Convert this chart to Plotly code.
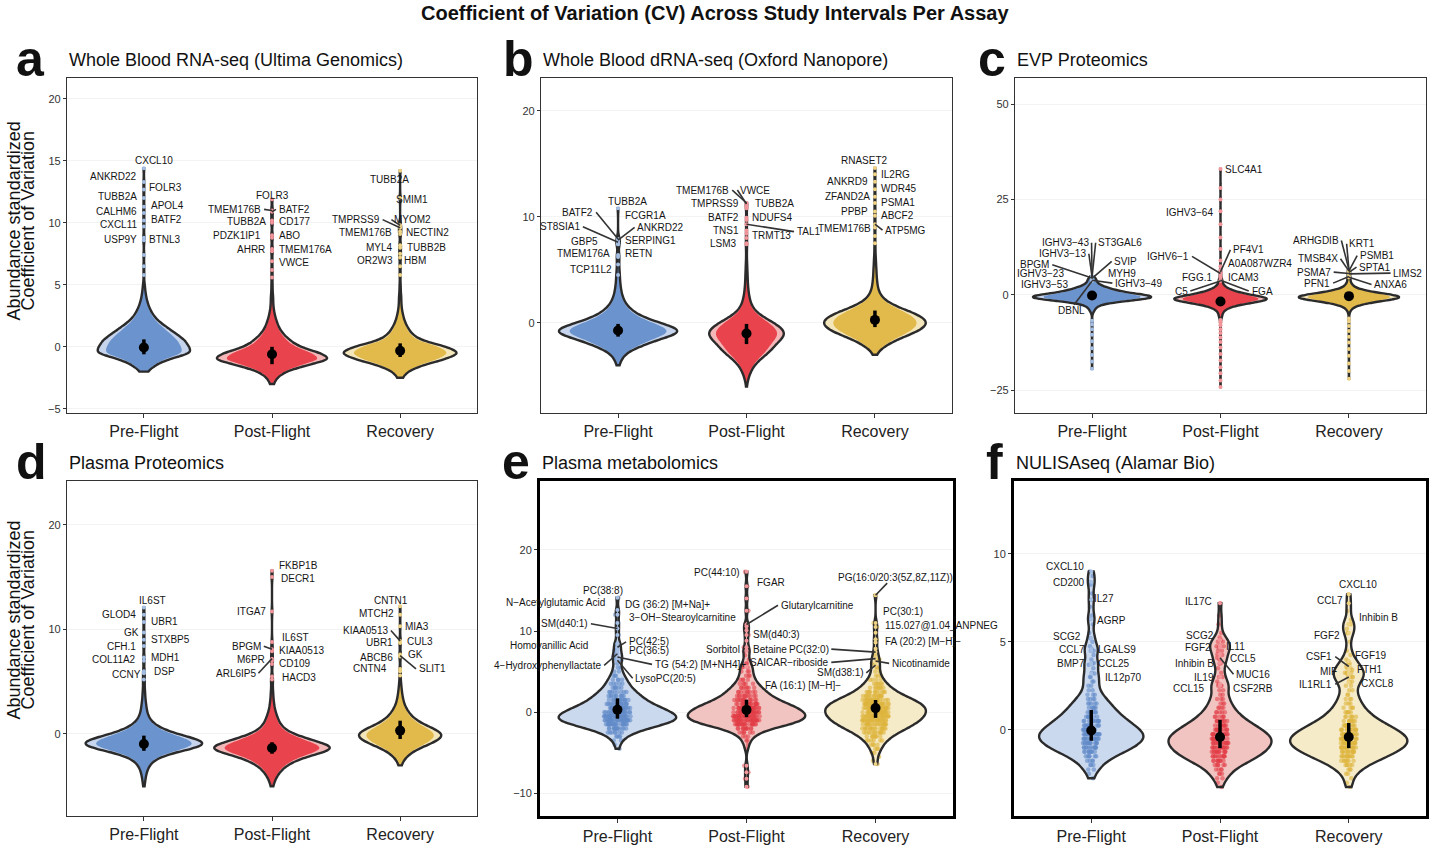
import numpy as np
import plotly.graph_objects as go

CATS = ["Pre-Flight", "Post-Flight", "Recovery"]

# ---------------- a: Whole Blood RNA-seq (Ultima Genomics)
A_BINS = [-3.0, -2.5, -2.0, -1.5, -1.0, -0.5, 0.0, 0.5, 1.0, 1.5, 2.0, 2.5, 3.0, 3.5, 4.0, 4.5, 5.0]
A_PRE_COUNTS = [0, 0, 8, 22, 50, 100, 92, 85, 68, 50, 32, 20, 13, 8, 5, 3, 2]
A_POST_COUNTS = [3, 8, 22, 55, 100, 80, 45, 30, 19, 12, 8, 5, 3, 2, 2, 1, 1]
A_REC_COUNTS = [0, 4, 12, 35, 75, 100, 78, 35, 20, 13, 8, 5, 3, 2, 2, 1, 1]
A_PRE_TAIL = [5.8, 6.5, 7.4]
A_POST_TAIL = [5.6, 6.2]
A_REC_TAIL = [5.8, 6.5]
A_PRE_GENES = ["CXCL10", "ANKRD22", "FOLR3", "TUBB2A", "APOL4", "CALHM6", "BATF2", "CXCL11", "USP9Y", "BTNL3"]
A_PRE_CV = [14.4, 13.3, 12.7, 12.0, 11.3, 10.8, 10.2, 9.7, 8.8, 8.6]
A_POST_GENES = ["FOLR3", "TMEM176B", "BATF2", "TUBB2A", "CD177", "PDZK1IP1", "ABO", "AHRR", "TMEM176A", "VWCE"]
A_POST_CV = [11.9, 11.0, 10.9, 10.2, 10.0, 9.0, 8.8, 7.9, 7.7, 6.9]
A_REC_GENES = ["TUBB2A", "SMIM1", "TMPRSS9", "MYOM2", "TMEM176B", "NECTIN2", "MYL4", "TUBB2B", "OR2W3", "HBM"]
A_REC_CV = [14.2, 12.0, 9.6, 9.8, 9.3, 9.1, 8.2, 8.0, 7.5, 7.2]
A_MEAN = [-0.05, -0.6, -0.32]
A_ERR_HI = [0.65, 0.6, 0.6]
A_ERR_LO = [0.55, 0.8, 0.5]

# ---------------- b: Whole Blood dRNA-seq (Oxford Nanopore)
B_BINS = [-6.0, -5.5, -5.0, -4.5, -4.0, -3.5, -3.0, -2.5, -2.0, -1.5, -1.0, -0.5, 0.0, 0.5,
          1.0, 1.5, 2.0, 2.5, 3.0, 3.5, 4.0, 4.5, 5.0, 5.5, 6.0, 6.5, 7.0]
B_PRE_COUNTS = [0, 0, 0, 0, 2, 5, 10, 22, 45, 65, 100, 95, 65, 40, 25, 16, 10, 7, 5, 4, 3, 2, 2, 1, 1, 1, 0]
B_POST_COUNTS = [1, 3, 7, 12, 20, 33, 50, 65, 75, 90, 100, 90, 70, 45, 25, 15, 10, 7, 5, 4, 3, 3, 2, 2, 1, 1, 1]
B_REC_COUNTS = [0, 0, 0, 0, 0, 0, 3, 10, 25, 45, 72, 92, 100, 92, 70, 42, 22, 12, 7, 5, 4, 3, 3, 2, 2, 1, 1]
B_PRE_TAIL = [4.5]
B_POST_TAIL = [7.5, 8.0]
B_REC_TAIL = [7.5, 8.2]
B_PRE_GENES = ["TUBB2A", "BATF2", "FCGR1A", "ST8SIA1", "ANKRD22", "GBP5", "SERPING1", "TMEM176A", "RETN", "TCP11L2"]
B_PRE_CV = [10.8, 7.9, 7.8, 7.6, 7.8, 7.4, 7.4, 6.4, 6.2, 5.5]
B_POST_GENES = ["TMEM176B", "VWCE", "TMPRSS9", "TUBB2A", "BATF2", "NDUFS4", "TNS1", "TRMT13", "TAL1", "LSM3"]
B_POST_CV = [11.3, 11.2, 11.0, 10.8, 9.9, 9.7, 8.7, 8.4, 9.3, 7.4]
B_REC_GENES = ["RNASET2", "IL2RG", "ANKRD9", "WDR45", "ZFAND2A", "PSMA1", "PPBP", "ABCF2", "TMEM176B", "ATP5MG"]
B_REC_CV = [14.6, 14.0, 13.3, 12.6, 11.9, 11.3, 10.5, 10.1, 9.0, 9.3]
B_MEAN = [-0.72, -1.0, 0.28]
B_ERR_HI = [0.62, 0.9, 0.88]
B_ERR_LO = [0.58, 1.0, 0.68]

# ---------------- c: EVP Proteomics
C_BINS = [-6.0, -5.5, -5.0, -4.5, -4.0, -3.5, -3.0, -2.5, -2.0, -1.5, -1.0, -0.5, 0.0, 0.5,
          1.0, 1.5, 2.0, 2.5, 3.0, 3.5, 4.0, 4.5, 5.0]
C_PRE_COUNTS = [0, 0, 1, 2, 4, 5, 8, 13, 28, 55, 88, 100, 78, 50, 38, 28, 20, 12, 8, 5, 3, 1, 0]
C_POST_COUNTS = [3, 3, 4, 5, 8, 14, 25, 40, 62, 90, 100, 80, 55, 38, 25, 16, 10, 6, 4, 3, 2, 1, 0]
C_REC_COUNTS = [0, 0, 1, 2, 3, 6, 12, 22, 38, 62, 90, 100, 78, 50, 30, 17, 10, 6, 4, 3, 2, 2, 1]
C_PRE_TAIL = [-19.4, -17.5, -15.8, -14.0, -12.2, -10.5, -9.0, -7.8, -6.8]
C_POST_TAIL = [-24.2, -22.5, -20.6, -19.0, -17.2, -15.5, -13.8, -12.4, -11.2, -10.0, -9.0, -8.0,
               -7.2, -6.6, 6.5, 7.5, 9.0, 12.0, 15.0, 18.5, 25.0, 28.0]
C_REC_TAIL = [-22.0, -20.0, -18.0, -16.0, -14.2, -12.5, -11.0, -9.5, -8.2, -7.0, -6.2]
C_PRE_GENES = ["IGHV3−43", "ST3GAL6", "IGHV3−13", "BPGM", "SVIP", "IGHV3−23", "MYH9", "IGHV3−53", "IGHV3−49", "DBNL"]
C_PRE_CV = [4.8, 4.7, 4.6, 4.4, 4.3, 4.2, 4.1, 4.0, 3.8, 3.6]
C_POST_GENES = ["SLC4A1", "IGHV3−64", "PF4V1", "IGHV6−1", "A0A087WZR4", "FGG.1", "ICAM3", "C5", "FGA"]
C_POST_CV = [33.0, 21.9, 6.0, 5.6, 5.8, 4.8, 4.5, 3.6, 3.8]
C_REC_GENES = ["ARHGDIB", "KRT1", "PSMB1", "TMSB4X", "SPTA1", "PSMA7", "LIMS2", "PFN1", "ANXA6"]
C_REC_CV = [6.6, 6.5, 6.3, 6.2, 5.9, 5.6, 5.5, 4.8, 4.6]
C_MEAN = [-0.2, -1.75, -0.35]
C_ERR_HI = [1.0, 1.0, 1.0]
C_ERR_LO = [1.0, 1.0, 1.0]

# ---------------- d: Plasma Proteomics
D_BINS = [-5.5, -5.0, -4.5, -4.0, -3.5, -3.0, -2.5, -2.0, -1.5, -1.0, -0.5, 0.0, 0.5, 1.0,
          1.5, 2.0, 2.5, 3.0, 3.5, 4.0, 4.5, 5.0]
D_PRE_COUNTS = [0, 1, 2, 3, 5, 8, 15, 30, 65, 100, 80, 48, 26, 14, 8, 5, 4, 3, 2, 2, 1, 1]
D_POST_COUNTS = [0, 2, 4, 8, 14, 22, 38, 60, 100, 88, 55, 32, 18, 12, 9, 6, 4, 3, 2, 2, 1, 1]
D_REC_COUNTS = [0, 0, 0, 0, 0, 3, 8, 18, 35, 65, 90, 100, 75, 48, 30, 20, 13, 8, 6, 4, 3, 2]
D_PRE_TAIL = [5.2]
D_POST_TAIL = [5.2]
D_REC_TAIL = [5.6, 6.0]
D_PRE_GENES = ["IL6ST", "GLOD4", "UBR1", "GK", "STXBP5", "CFH.1", "MDH1", "COL11A2", "CCNY", "DSP"]
D_PRE_CV = [12.1, 11.4, 10.7, 9.7, 9.0, 8.4, 7.3, 7.0, 5.8, 6.0]
D_POST_GENES = ["FKBP1B", "DECR1", "ITGA7", "IL6ST", "BPGM", "KIAA0513", "M6PR", "CD109", "ARL6IP5", "HACD3"]
D_POST_CV = [15.6, 15.0, 11.7, 8.8, 8.1, 7.9, 7.0, 6.7, 7.2, 5.5]
D_REC_GENES = ["CNTN1", "MTCH2", "MIA3", "KIAA0513", "UBR1", "CUL3", "ABCB6", "GK", "CNTN4", "SLIT1"]
D_REC_CV = [12.2, 11.4, 10.3, 8.9, 8.7, 8.8, 7.4, 7.6, 6.2, 7.5]
D_MEAN = [-0.96, -1.34, 0.32]
D_ERR_HI = [0.8, 0.55, 0.95]
D_ERR_LO = [0.65, 0.55, 0.8]

# ---------------- e: Plasma metabolomics
E_BINS = [-6.0, -5.5, -5.0, -4.5, -4.0, -3.5, -3.0, -2.5, -2.0, -1.5, -1.0, -0.5, 0.0, 0.5,
          1.0, 1.5, 2.0, 2.5, 3.0, 3.5, 4.0, 4.5, 5.0, 5.5, 6.0, 6.5, 7.0, 7.5, 8.0]
E_PRE_COUNTS = [0, 0, 0, 1, 1, 2, 4, 7, 13, 20, 26, 26, 23, 19, 15, 12, 10, 8, 6, 5, 4, 3, 2, 2, 1, 1, 1, 0, 0]
E_POST_COUNTS = [0, 0, 0, 1, 1, 2, 3, 6, 11, 20, 26, 27, 26, 23, 19, 14, 11, 9, 7, 5, 4, 3, 3, 2, 2, 1, 1, 1, 0]
E_REC_COUNTS = [1, 1, 2, 3, 4, 6, 8, 12, 16, 20, 23, 25, 26, 26, 24, 20, 15, 11, 8, 6, 4, 3, 2, 2, 1, 1, 1, 0, 0]
E_PRE_TAIL = [8.5, 9.5, 11.0]
E_POST_TAIL = [-9.2, -8.2, -7.4, -6.6, 8.8, 10.1, 12.5, 14.0]
E_REC_TAIL = [-6.4, 7.8, 9.0, 9.8]
E_PRE_GENES = ["PC(38:8)", "N−Acetylglutamic Acid", "DG (36:2) [M+Na]+", "SM(d40:1)", "Homovanillic Acid",
               "PC(42:5)", "PC(36:5)", "4−Hydroxyphenyllactate", "TG (54:2) [M+NH4]+", "LysoPC(20:5)"]
E_PRE_CV = [14.1, 12.6, 12.0, 10.3, 8.3, 8.0, 7.6, 7.2, 6.8, 6.4]
E_POST_GENES = ["PC(44:10)", "FGAR", "Glutarylcarnitine", "3−OH−Stearoylcarnitine", "SM(d40:3)",
                "Sorbitol", "Betaine", "FA (16:1) [M−H]−"]
E_POST_CV = [17.3, 15.5, 10.8, 10.6, 9.5, 8.0, 7.6, 5.6]
E_REC_GENES = ["PG(16:0/20:3(5Z,8Z,11Z))", "PC(30:1)", "115.027@1.04_ANPNEG", "FA (20:2) [M−H]−",
               "PC(32:0)", "SAICAR−riboside", "Nicotinamide", "SM(d38:1)"]
E_REC_CV = [14.4, 11.0, 10.5, 8.6, 7.4, 6.6, 6.3, 5.8]
E_MEAN = [0.3, 0.28, 0.5]
E_ERR_HI = [1.4, 1.25, 1.0]
E_ERR_LO = [1.1, 0.9, 1.2]

# ---------------- f: NULISAseq (Alamar Bio)  (0.25-wide bins)
F_BINS = [-3.25, -3.0, -2.75, -2.5, -2.25, -2.0, -1.75, -1.5, -1.25, -1.0,
          -0.75, -0.5, -0.25, 0.0, 0.25, 0.5, 0.75, 1.0, 1.25, 1.5,
          1.75, 2.0, 2.25, 2.5, 2.75, 3.0, 3.25, 3.5, 3.75, 4.0,
          4.25, 4.5, 4.75, 5.0, 5.25, 5.5, 5.75, 6.0, 6.25, 6.5,
          6.75, 7.0, 7.25, 7.5, 7.75, 8.0, 8.25, 8.5, 8.75, 9.0]
F_PRE_COUNTS = [0, 0, 1, 1, 2, 3, 4, 6, 9, 11,
                13, 14, 14, 13, 11, 10, 8, 7, 6, 5,
                4, 3, 2, 2, 2, 2, 1, 1, 1, 1,
                1, 1, 1, 1, 0, 1, 0, 1, 0, 1,
                0, 1, 0, 0, 1, 0, 1, 0, 1, 0]
F_POST_COUNTS = [1, 1, 2, 3, 4, 6, 9, 11, 13, 14,
                 15, 15, 14, 12, 10, 8, 6, 5, 4, 3,
                 3, 2, 2, 2, 1, 1, 1, 1, 1, 1,
                 1, 2, 2, 2, 1, 1, 0, 1, 0, 1,
                 0, 0, 0, 0, 0, 0, 0, 0, 0, 0]
F_REC_COUNTS = [1, 1, 1, 2, 3, 5, 7, 10, 12, 14,
                15, 15, 14, 12, 10, 8, 6, 5, 4, 3,
                3, 2, 2, 2, 2, 3, 3, 2, 2, 1,
                1, 1, 0, 1, 0, 1, 1, 1, 1, 0,
                1, 0, 0, 0, 0, 0, 0, 0, 0, 0]
F_PRE_TAIL = []
F_POST_TAIL = []
F_REC_TAIL = []
F_PRE_GENES = ["CXCL10", "CD200", "IL27", "AGRP", "SCG2", "CCL7", "LGALS9", "BMP7", "CCL25", "IL12p70"]
F_PRE_CV = [9.0, 8.4, 7.4, 6.3, 5.2, 4.6, 4.5, 3.8, 3.7, 3.2]
F_POST_GENES = ["IL17C", "SCG2", "FGF2", "IL11", "CCL5", "Inhibin B", "MUC16", "IL19", "CCL15", "CSF2RB"]
F_POST_CV = [7.2, 5.1, 4.8, 4.7, 4.3, 3.8, 4.1, 3.0, 2.5, 2.6]
F_REC_GENES = ["CXCL10", "CCL7", "Inhibin B", "FGF2", "CSF1", "FGF19", "MIF", "FTH1", "IL1RL1", "CXCL8"]
F_REC_CV = [7.7, 7.2, 6.0, 5.5, 3.6, 3.9, 3.2, 3.4, 3.0, 2.7]
F_MEAN = [-0.04, -0.41, -0.41]
F_ERR_HI = [1.17, 0.98, 0.8]
F_ERR_LO = [0.58, 0.63, 0.63]

# ---------------- label placement (layout only): (dx from category, label y, anchor, segment)
A_PRE_POS = [(0.08, 15.0, 'c', 0), (-0.037, 13.77, 'r', 0), (0.021, 12.88, 'l', 0), (-0.037, 12.11, 'r', 0),
             (0.037, 11.43, 'l', 0), (-0.037, 10.9, 'r', 0), (0.037, 10.25, 'l', 0), (-0.037, 9.85, 'r', 0),
             (-0.037, 8.67, 'r', 0), (0.021, 8.62, 'l', 0)]
A_POST_POS = [(0.0, 12.24, 'c', 0), (-0.068, 11.09, 'r', 1), (0.037, 11.09, 'l', 1), (-0.029, 10.07, 'r', 0),
              (0.037, 10.07, 'l', 0), (-0.068, 8.94, 'r', 0), (0.037, 8.94, 'l', 0), (-0.037, 7.84, 'r', 0),
              (0.037, 7.84, 'l', 0), (0.037, 6.77, 'l', 0)]
A_REC_POS = [(-0.08, 13.48, 'c', 0), (-0.047, 11.86, 'l', 0), (-0.143, 10.26, 'r', 1), (-0.062, 10.26, 'l', 1),
             (-0.047, 9.21, 'r', 0), (0.031, 9.21, 'l', 0), (-0.039, 8.05, 'r', 0), (0.039, 8.05, 'l', 0),
             (-0.039, 6.98, 'r', 0), (0.018, 6.98, 'l', 0)]
B_PRE_POS = [(0.07, 11.46, 'c', 0), (-0.177, 10.42, 'r', 1), (0.039, 10.1, 'l', 0), (-0.28, 9.07, 'r', 1),
             (0.135, 9.0, 'l', 1), (-0.138, 7.66, 'r', 0), (0.039, 7.75, 'l', 0), (-0.047, 6.5, 'r', 0),
             (0.039, 6.5, 'l', 0), (-0.034, 5.02, 'r', 0)]
B_POST_POS = [(-0.117, 12.52, 'r', 1), (-0.065, 12.52, 'l', 1), (-0.039, 11.27, 'r', 0), (0.051, 11.27, 'l', 0),
              (-0.039, 9.95, 'r', 0), (0.031, 9.95, 'l', 0), (-0.039, 8.69, 'r', 0), (0.031, 8.22, 'l', 0),
              (0.376, 8.6, 'l', 1), (-0.058, 7.44, 'r', 0)]
B_REC_POS = [(-0.078, 15.28, 'c', 0), (0.033, 13.94, 'l', 0), (-0.039, 13.34, 'r', 0), (0.033, 12.62, 'l', 0),
             (-0.026, 11.93, 'r', 0), (0.033, 11.36, 'l', 0), (-0.039, 10.48, 'r', 0), (0.033, 10.1, 'l', 0),
             (-0.018, 8.91, 'r', 0), (0.065, 8.75, 'l', 1)]
C_PRE_POS = [(-0.01, 13.65, 'r', 1), (0.034, 13.65, 'l', 1), (-0.031, 10.76, 'r', 1), (-0.316, 7.87, 'r', 1),
             (0.159, 8.75, 'l', 1), (-0.2, 5.69, 'r', 0), (0.112, 5.6, 'l', 0), (-0.174, 2.62, 'r', 0),
             (0.164, 3.06, 'l', 1), (-0.16, -4.1, 'c', (-0.14, -2.6))]
C_POST_POS = [(0.018, 32.9, 'l', 0), (-0.039, 21.7, 'r', 0), (0.083, 11.8, 'l', 1), (-0.228, 10.06, 'r', 1),
              (0.044, 8.3, 'l', 0), (-0.047, 4.64, 'r', 0), (0.044, 4.64, 'l', 0), (-0.241, 0.97, 'r', 1),
              (0.226, 0.97, 'l', 1)]
C_REC_POS = [(-0.065, 14.26, 'r', 1), (-0.012, 13.4, 'l', 1), (0.07, 10.3, 'l', 1), (-0.072, 9.45, 'r', 1),
             (0.065, 7.26, 'l', 1), (-0.125, 5.95, 'r', 1), (0.33, 5.69, 'l', 1), (-0.129, 3.06, 'r', 1),
             (0.182, 2.71, 'l', 1)]
D_PRE_POS = [(0.07, 12.76, 'c', 0), (-0.042, 11.39, 'r', 0), (0.039, 10.75, 'l', 0), (-0.021, 9.66, 'r', 0),
             (0.039, 9.0, 'l', 0), (-0.042, 8.36, 'r', 0), (0.039, 7.34, 'l', 0), (-0.042, 7.08, 'r', 0),
             (-0.008, 5.68, 'r', 0), (0.062, 6.0, 'l', 0)]
D_POST_POS = [(0.039, 16.1, 'l', 0), (0.052, 14.9, 'l', 0), (-0.034, 11.74, 'r', 0), (0.059, 9.22, 'l', 0),
              (-0.07, 8.39, 'r', 1), (0.039, 8.0, 'l', 0), (-0.039, 7.11, 'r', 0), (0.039, 6.7, 'l', 0),
              (-0.112, 5.8, 'r', 1), (0.059, 5.39, 'l', 0)]
D_REC_POS = [(-0.07, 12.76, 'c', 0), (-0.031, 11.48, 'r', 0), (0.026, 10.3, 'l', 0), (-0.078, 9.89, 'r', 1),
             (-0.039, 8.71, 'r', 0), (0.039, 8.83, 'l', 0), (-0.039, 7.34, 'r', 0), (0.047, 7.56, 'l', 0),
             (-0.083, 6.22, 'r', 0), (0.13, 6.22, 'l', 1)]
E_PRE_POS = [(-0.109, 15.0, 'c', 0), (-0.082, 13.5, 'r', 0), (0.042, 13.3, 'l', 0), (-0.212, 10.9, 'r', 1),
             (-0.212, 8.26, 'r', 0), (0.073, 8.67, 'l', 1), (0.073, 7.6, 'l', 0), (-0.109, 5.77, 'r', 1),
             (0.274, 5.89, 'l', 1), (0.124, 4.17, 'l', 1)]
E_POST_POS = [(-0.033, 17.26, 'r', 0), (0.062, 15.95, 'l', 0), (0.25, 13.17, 'l', 1), (-0.064, 11.62, 'r', 0),
              (0.036, 9.57, 'l', 0), (-0.033, 7.77, 'r', 0), (0.036, 7.77, 'l', 0), (0.129, 3.3, 'l', 0)]
E_REC_POS = [(-0.31, 16.65, 'l', (0.09, 15.9)), (0.039, 12.43, 'l', 0), (0.06, 10.63, 'l', 0), (0.06, 8.75, 'l', 0),
             (-0.349, 7.77, 'r', 1), (-0.349, 6.13, 'r', 1), (0.111, 6.01, 'l', 1), (-0.078, 4.85, 'r', 1)]
F_PRE_POS = [(-0.043, 9.3, 'r', 0), (-0.036, 8.37, 'r', 0), (0.008, 7.47, 'l', 0), (0.029, 6.24, 'l', 0),
             (-0.062, 5.29, 'r', 0), (-0.036, 4.56, 'r', 0), (0.034, 4.56, 'l', 0), (-0.036, 3.78, 'r', 0),
             (0.034, 3.78, 'l', 0), (0.091, 2.97, 'l', 0)]
F_POST_POS = [(-0.044, 7.28, 'r', 0), (-0.031, 5.39, 'r', 0), (-0.052, 4.67, 'r', 0), (0.033, 4.71, 'l', 0),
              (0.059, 4.06, 'l', 0), (-0.031, 3.76, 'r', 0), (0.111, 3.16, 'l', 1), (-0.031, 2.97, 'r', 0),
              (-0.101, 2.36, 'r', 0), (0.085, 2.36, 'l', 0)]
F_REC_POS = [(0.07, 8.26, 'c', 0), (-0.026, 7.37, 'r', 0), (0.062, 6.37, 'l', 0), (-0.051, 5.39, 'r', 0),
             (-0.111, 4.16, 'r', 1), (0.031, 4.25, 'l', 0), (-0.072, 3.31, 'r', 0), (0.052, 3.42, 'l', 0),
             (-0.111, 2.59, 'r', 1), (0.078, 2.63, 'l', 0)]

# ---------------- panel assembly
PANELS = [
    dict(letter="a", title="Whole Blood RNA-seq (Ultima Genomics)", bins=A_BINS,
         counts=[A_PRE_COUNTS, A_POST_COUNTS, A_REC_COUNTS], tails=[A_PRE_TAIL, A_POST_TAIL, A_REC_TAIL],
         genes=[A_PRE_GENES, A_POST_GENES, A_REC_GENES], cv=[A_PRE_CV, A_POST_CV, A_REC_CV],
         pos=[A_PRE_POS, A_POST_POS, A_REC_POS], mean=A_MEAN, hi=A_ERR_HI, lo=A_ERR_LO),
    dict(letter="b", title="Whole Blood dRNA-seq (Oxford Nanopore)", bins=B_BINS,
         counts=[B_PRE_COUNTS, B_POST_COUNTS, B_REC_COUNTS], tails=[B_PRE_TAIL, B_POST_TAIL, B_REC_TAIL],
         genes=[B_PRE_GENES, B_POST_GENES, B_REC_GENES], cv=[B_PRE_CV, B_POST_CV, B_REC_CV],
         pos=[B_PRE_POS, B_POST_POS, B_REC_POS], mean=B_MEAN, hi=B_ERR_HI, lo=B_ERR_LO),
    dict(letter="c", title="EVP Proteomics", bins=C_BINS,
         counts=[C_PRE_COUNTS, C_POST_COUNTS, C_REC_COUNTS], tails=[C_PRE_TAIL, C_POST_TAIL, C_REC_TAIL],
         genes=[C_PRE_GENES, C_POST_GENES, C_REC_GENES], cv=[C_PRE_CV, C_POST_CV, C_REC_CV],
         pos=[C_PRE_POS, C_POST_POS, C_REC_POS], mean=C_MEAN, hi=C_ERR_HI, lo=C_ERR_LO),
    dict(letter="d", title="Plasma Proteomics", bins=D_BINS,
         counts=[D_PRE_COUNTS, D_POST_COUNTS, D_REC_COUNTS], tails=[D_PRE_TAIL, D_POST_TAIL, D_REC_TAIL],
         genes=[D_PRE_GENES, D_POST_GENES, D_REC_GENES], cv=[D_PRE_CV, D_POST_CV, D_REC_CV],
         pos=[D_PRE_POS, D_POST_POS, D_REC_POS], mean=D_MEAN, hi=D_ERR_HI, lo=D_ERR_LO),
    dict(letter="e", title="Plasma metabolomics", bins=E_BINS,
         counts=[E_PRE_COUNTS, E_POST_COUNTS, E_REC_COUNTS], tails=[E_PRE_TAIL, E_POST_TAIL, E_REC_TAIL],
         genes=[E_PRE_GENES, E_POST_GENES, E_REC_GENES], cv=[E_PRE_CV, E_POST_CV, E_REC_CV],
         pos=[E_PRE_POS, E_POST_POS, E_REC_POS], mean=E_MEAN, hi=E_ERR_HI, lo=E_ERR_LO),
    dict(letter="f", title="NULISAseq (Alamar Bio)", bins=F_BINS,
         counts=[F_PRE_COUNTS, F_POST_COUNTS, F_REC_COUNTS], tails=[F_PRE_TAIL, F_POST_TAIL, F_REC_TAIL],
         genes=[F_PRE_GENES, F_POST_GENES, F_REC_GENES], cv=[F_PRE_CV, F_POST_CV, F_REC_CV],
         pos=[F_PRE_POS, F_POST_POS, F_REC_POS], mean=F_MEAN, hi=F_ERR_HI, lo=F_ERR_LO),
]

# ---------------- styling / geometry
W, H = 1430, 846
XDOM_PX = [(67, 477), (541, 952), (1015, 1426), (67, 477), (540, 953), (1014, 1426)]
YDOM_PX = [(78, 414)] * 3 + [(482, 818)] * 3
YRANGES = [(-5.34, 21.7), (-8.5, 23.1), (-31.0, 56.9), (-7.85, 24.2), (-12.8, 28.5), (-4.9, 14.15)]
YTICKS = [[-5, 0, 5, 10, 15, 20], [0, 10, 20], [-25, 0, 25, 50], [0, 10, 20], [-10, 0, 10, 20], [0, 5, 10]]
WIDTHS = [[0.72, 0.86, 0.88], [0.92, 0.58, 0.79], [0.92, 0.72, 0.78],
          [0.91, 0.90, 0.64], [0.91, 0.91, 0.78], [0.81, 0.80, 0.91]]
BANDW = [0.3, 0.4, 0.55, 0.4, 0.5, 0.3]
POINT_STYLE = [False, False, False, False, True, True]
POINT_W = [0, 0, 0, 0, 0.21, 0.13]
THICK = [False, False, False, False, True, True]

DARK = ["#6b93cd", "#e9444d", "#e2b94b"]
LIGHT = ["#c6d5ed", "#f3b7b8", "#f4e6bb"]
LIGHT_EF = ["#cbd9ef", "#f2c4c1", "#f6ebc8"]
TAILC = ["#a3bde3", "#f2959a", "#eed386"]
PTS = ["rgba(96,138,200,0.6)", "rgba(226,60,70,0.55)", "rgba(222,180,60,0.6)"]
OUTLINE = "#2b2b2b"
FONT = "Liberation Sans, Arial, Helvetica, sans-serif"

fig = go.Figure()
annotations = []
layout_axes = {}

for i, p in enumerate(PANELS):
    n = i + 1
    xa = "x" if n == 1 else f"x{n}"
    ya = "y" if n == 1 else f"y{n}"
    for j in range(3):
        samples = np.concatenate([np.repeat(np.asarray(p["bins"], float), p["counts"][j]),
                                  np.asarray(p["tails"][j], float),
                                  np.asarray(p["cv"][j], float)])
        w = WIDTHS[i][j]
        bw = BANDW[i]
        fillc = LIGHT_EF[j] if POINT_STYLE[i] else LIGHT[j]
        common = dict(x0=j, y=samples, xaxis=xa, yaxis=ya, bandwidth=bw, spanmode="hard",
                      orientation="v", showlegend=False, hoverinfo="skip", scalemode="width")
        # outer light fill
        fig.add_trace(go.Violin(width=w, fillcolor=fillc, line=dict(width=0), points=False, **common))
        if POINT_STYLE[i]:
            fig.add_trace(go.Violin(width=POINT_W[i], fillcolor="rgba(0,0,0,0)", line=dict(width=0),
                                    points="all", jitter=1, pointpos=0,
                                    marker=dict(size=4.5, color=PTS[j], line=dict(width=0)), **common))
        else:
            fig.add_trace(go.Violin(width=w * 0.82, fillcolor=DARK[j], line=dict(width=0),
                                    points=False, **common))
        # outline
        fig.add_trace(go.Violin(width=w, fillcolor="rgba(0,0,0,0)", line=dict(color=OUTLINE, width=2.4),
                                points=False, **common))
        # tail points
        tv = list(p["tails"][j]) + list(p["cv"][j])
        fig.add_trace(go.Scatter(x=[j] * len(tv), y=tv, mode="markers", xaxis=xa, yaxis=ya,
                                 marker=dict(size=4, color=TAILC[j]), showlegend=False, hoverinfo="skip"))
        # label segments
        sx, sy = [], []
        for (dx, ly, anc, seg), val in zip(p["pos"][j], p["cv"][j]):
            if seg:
                if isinstance(seg, tuple):
                    x0s, y0s = j + seg[0], seg[1]
                else:
                    x0s = j + dx + (0.006 if anc == 'r' else -0.006)
                    y0s = ly
                sx += [x0s, j, None]
                sy += [y0s, val, None]
        if sx:
            fig.add_trace(go.Scatter(x=sx, y=sy, mode="lines", xaxis=xa, yaxis=ya,
                                     line=dict(color="#333333", width=1.6), showlegend=False,
                                     hoverinfo="skip"))
        for (dx, ly, anc, seg), name in zip(p["pos"][j], p["genes"][j]):
            annotations.append(dict(x=j + dx, y=ly, xref=xa, yref=ya, text=name, showarrow=False,
                                    xanchor={'l': 'left', 'r': 'right', 'c': 'center'}[anc],
                                    yanchor="middle", font=dict(family=FONT, size=10, color="#151515")))
    # mean and spread
    fig.add_trace(go.Scatter(x=[0, 1, 2], y=p["mean"], mode="markers", xaxis=xa, yaxis=ya,
                             marker=dict(size=10, color="black"),
                             error_y=dict(type="data", symmetric=False, array=p["hi"], arrayminus=p["lo"],
                                          thickness=3.5, width=0, color="black"),
                             showlegend=False, hoverinfo="skip"))

    x0p, x1p = XDOM_PX[i]
    y0p, y1p = YDOM_PX[i]
    lw = 3 if THICK[i] else 1.3
    lc = "black" if THICK[i] else "#333333"
    layout_axes["xaxis" if n == 1 else f"xaxis{n}"] = dict(
        domain=[x0p / W, x1p / W], anchor=ya, range=[-0.6, 2.6], tickvals=[0, 1, 2], ticktext=CATS,
        tickfont=dict(family=FONT, size=16, color="#222222"), ticks="outside", ticklen=4, tickcolor="#333333",
        showline=True, mirror=True, linecolor=lc, linewidth=lw, showgrid=False, zeroline=False,
        fixedrange=True)
    layout_axes["yaxis" if n == 1 else f"yaxis{n}"] = dict(
        domain=[1 - y1p / H, 1 - y0p / H], anchor=xa, range=list(YRANGES[i]), tickvals=YTICKS[i],
        tickfont=dict(family=FONT, size=11, color="#333333"), ticks="outside", ticklen=3, tickcolor="#333333",
        showline=True, mirror=True, linecolor=lc, linewidth=lw, showgrid=True, gridcolor="#f3f3f3",
        zeroline=False, fixedrange=True)

# panel titles and letters
LETTER_X = [14, 501, 976, 14, 500, 984]
for i, p in enumerate(PANELS):
    top = YDOM_PX[i][0]
    annotations.append(dict(x=XDOM_PX[i][0] / W, y=1 - (top - 6) / H, xref="paper", yref="paper",
                            text=p["title"], showarrow=False, xanchor="left", yanchor="bottom",
                            font=dict(family=FONT, size=18, color="#111111")))
    annotations.append(dict(x=LETTER_X[i] / W, y=1 - (top + 11) / H, xref="paper", yref="paper",
                            text="<b>" + p["letter"] + "</b>", showarrow=False, xanchor="left",
                            yanchor="bottom", font=dict(family=FONT, size=50, color="#111111")))

# y axis titles (two tight lines)
for yc in (222, 622):
    annotations.append(dict(x=14 / W, y=1 - yc / H, xref="paper", yref="paper", text="Abundance standardized",
                            showarrow=False, textangle=-90, xanchor="center", yanchor="middle",
                            font=dict(family=FONT, size=18, color="#111111")))
    annotations.append(dict(x=28 / W, y=1 - yc / H, xref="paper", yref="paper", text="Coefficient of Variation",
                            showarrow=False, textangle=-90, xanchor="center", yanchor="middle",
                            font=dict(family=FONT, size=18, color="#111111")))

annotations.append(dict(x=0.5, y=1 - 26 / H, xref="paper", yref="paper",
                        text="<b>Coefficient of Variation (CV) Across Study Intervals Per Assay</b>",
                        showarrow=False, xanchor="center", yanchor="bottom",
                        font=dict(family=FONT, size=20, color="#111111")))

fig.update_layout(width=W, height=H, margin=dict(l=0, r=0, t=0, b=0), paper_bgcolor="white",
                  plot_bgcolor="white", showlegend=False, violinmode="overlay",
                  annotations=annotations, **layout_axes)

fig.write_html("out.html", config={"displayModeBar": False},
               post_script="document.body.style.margin='0';document.body.style.overflow='hidden';")
